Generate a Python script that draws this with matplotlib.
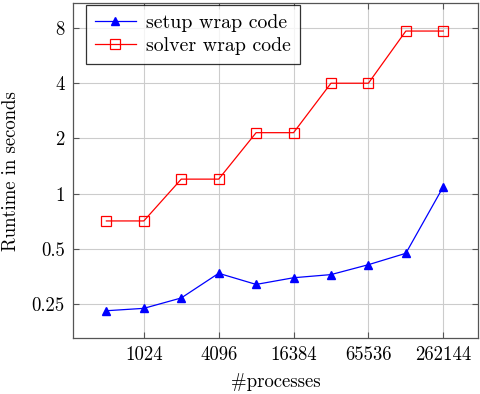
import matplotlib
matplotlib.use("Agg")
import matplotlib.pyplot as plt
from matplotlib.ticker import FixedLocator, NullLocator

plt.rcParams['font.family'] = 'serif'
plt.rcParams['font.serif'] = ['cmr10', 'DejaVu Serif']
plt.rcParams['mathtext.fontset'] = 'cm'
plt.rcParams['axes.unicode_minus'] = False

processes = [512, 1024, 2048, 4096, 8192, 16384, 32768, 65536, 131072, 262144]
setup = [0.23, 0.237, 0.27, 0.368, 0.32, 0.348, 0.362, 0.41, 0.473, 1.09]
solver = [0.71, 0.71, 1.2, 1.2, 2.15, 2.15, 4.0, 4.0, 7.7, 7.7]
xticks = [1024, 4096, 16384, 65536, 262144]
xticklabels = ['1024', '4096', '16384', '65536', '262144']
yticks = [0.25, 0.5, 1, 2, 4, 8]
yticklabels = ['0.25', '0.5', '1', '2', '4', '8']

fig = plt.figure(figsize=(4.8, 3.94), dpi=100)
ax = fig.add_axes([0.152, 0.142, 0.844, 0.85])
ax.set_xscale('log', base=2)
ax.set_yscale('log', base=2)

ax.plot(processes, setup, color='blue', lw=0.9, marker='^', ms=5.2,
        markerfacecolor='blue', markeredgecolor='blue', label='setup wrap code')
ax.plot(processes, solver, color='red', lw=0.9, marker='s', ms=6.5,
        markerfacecolor='none', markeredgecolor='red', markeredgewidth=0.9,
        label='solver wrap code')

ax.set_xlim(2**8.107, 2**18.93)
ax.set_ylim(2**-2.615, 2**3.45)
ax.xaxis.set_major_locator(FixedLocator(xticks))
ax.set_xticklabels(xticklabels)
ax.xaxis.set_minor_locator(NullLocator())
ax.yaxis.set_major_locator(FixedLocator(yticks))
ax.set_yticklabels(yticklabels)
ax.yaxis.set_minor_locator(NullLocator())

ax.grid(True, color='#cccccc', lw=0.8)
ax.set_axisbelow(True)
for s in ax.spines.values():
    s.set_color('#555555')
    s.set_linewidth(0.9)
ax.tick_params(direction='in', length=4, width=0.8, color='#555555',
               labelsize=13.5, top=True, right=True, pad=6)

ax.set_xlabel('#processes', fontsize=13.5, labelpad=6)
ax.set_ylabel('Runtime in seconds', fontsize=13.5, labelpad=8)

leg = ax.legend(loc='upper left', fontsize=14.3, frameon=True, fancybox=False,
                edgecolor='black', borderpad=0.45, handlelength=2.1,
                handletextpad=0.5, labelspacing=0.28, borderaxespad=0.0,
                bbox_to_anchor=(85.7 / 480, 1 - 5 / 394),
                bbox_transform=fig.transFigure)
leg.get_frame().set_linewidth(0.9)

fig.savefig('out.png', dpi=100)
